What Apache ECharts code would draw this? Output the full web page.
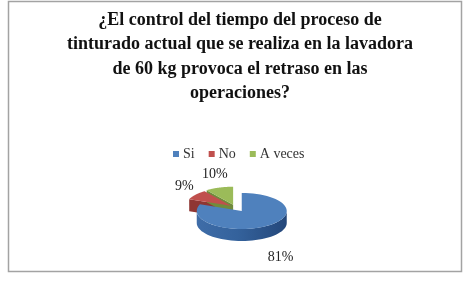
<!DOCTYPE html>
<html>
<head>
<meta charset="utf-8">
<script src="https://cdn.jsdelivr.net/npm/echarts@6/dist/echarts.min.js"></script>
<style>
  html, body { margin: 0; padding: 0; background: #fff; }
  #chart { width: 464px; height: 283px; }
</style>
</head>
<body>
<div id="chart"></div>
<script>
var titleText = '¿El control del tiempo del proceso de\ntinturado actual que se realiza en la lavadora\nde 60 kg provoca el retraso en las\noperaciones?';
var categories = ['Si', 'No', 'A veces'];
var values = [81, 9, 10];

var topColors = ['#4F81BD', '#C0504D', '#9BBB59'];
var sideColors = ['#34629c', '#8f3633', '#708b3c'];
var explode = [12, 5, 6];

// geometria del pastel 3D
var cx = 235, cy = 207, rx = 45, ry = 18, depth = 12;

var total = values.reduce(function (a, b) { return a + b; }, 0);

function pt(ox, oy, a, dy) {
    return [ox + rx * Math.sin(a), oy - ry * Math.cos(a) + dy];
}

function renderSlice(params, api) {
    var i = params.dataIndex;
    var start = 0;
    for (var k = 0; k < i; k++) start += values[k];
    var v = api.value(0);
    var a0 = start / total * Math.PI * 2;
    var a1 = (start + v) / total * Math.PI * 2;
    var mid = (a0 + a1) / 2;
    var ox = cx + explode[i] * Math.sin(mid);
    var oy = cy - explode[i] * Math.cos(mid) * ry / rx;
    var children = [];

    // caras radiales visibles
    if (Math.sin(a0) < -0.01) {
        var e0 = pt(ox, oy, a0, 0), e1 = pt(ox, oy, a0, depth);
        children.push({
            type: 'polygon', z2: 1,
            shape: { points: [[ox, oy], e0, e1, [ox, oy + depth]] },
            style: { fill: sideColors[i] }
        });
    }
    if (Math.sin(a1) > 0.01) {
        var f0 = pt(ox, oy, a1, 0), f1 = pt(ox, oy, a1, depth);
        children.push({
            type: 'polygon', z2: 1,
            shape: { points: [[ox, oy], f0, f1, [ox, oy + depth]] },
            style: { fill: sideColors[i] }
        });
    }

    // pared exterior (solo la parte frontal)
    var w0 = Math.max(a0, Math.PI / 2), w1 = Math.min(a1, Math.PI * 1.5);
    if (w1 > w0) {
        var band = [], n = 40, s;
        for (s = 0; s <= n; s++) band.push(pt(ox, oy, w0 + (w1 - w0) * s / n, 0));
        for (s = n; s >= 0; s--) band.push(pt(ox, oy, w0 + (w1 - w0) * s / n, depth));
        children.push({
            type: 'polygon', z2: 1,
            shape: { points: band },
            style: {
                fill: new echarts.graphic.LinearGradient(0, 0, 1, 0, [
                    { offset: 0, color: '#3f6da8' },
                    { offset: 0.45, color: sideColors[i] },
                    { offset: 1, color: '#24477a' }
                ])
            }
        });
    }

    // cara superior
    var top = [[ox, oy]];
    var m = 60;
    for (var j = 0; j <= m; j++) top.push(pt(ox, oy, a0 + (a1 - a0) * j / m, 0));
    children.push({
        type: 'polygon', z2: 2,
        shape: { points: top },
        style: { fill: topColors[i] }
    });

    // etiqueta de porcentaje
    var front = Math.cos(mid) < 0;
    var edge = pt(ox, oy, mid, front ? depth : 0);
    var lr = front ? 24 : 14;
    children.push({
        type: 'text', z2: 3,
        x: edge[0] + lr * Math.sin(mid),
        y: edge[1] - lr * Math.cos(mid),
        style: {
            text: Math.round(v / total * 100) + '%',
            fill: '#222',
            font: '14px "Liberation Serif"',
            align: 'center',
            verticalAlign: 'middle'
        }
    });

    return { type: 'group', children: children };
}

var option = {
    animation: false,
    color: topColors,
    title: {
        text: titleText,
        left: 235,
        textAlign: 'center',
        top: 3,
        textStyle: {
            fontFamily: 'Liberation Serif',
            fontWeight: 'bold',
            fontSize: 18,
            lineHeight: 24.5,
            color: '#111'
        }
    },
    legend: {
        data: categories,
        left: 168,
        top: 142,
        icon: 'rect',
        itemWidth: 6,
        itemHeight: 6,
        itemGap: 14,
        textStyle: {
            fontFamily: 'Liberation Serif',
            fontSize: 14,
            color: '#333',
            padding: [0, 0, 0, -1]
        }
    },
    graphic: [{
        type: 'rect',
        shape: { x: 8.5, y: 1.5, width: 453, height: 270 },
        style: { fill: 'none', stroke: '#a3a3a3', lineWidth: 1.5 }
    }],
    series: [
        {
            // solo para la leyenda
            type: 'pie',
            radius: [0, 0],
            silent: true,
            label: { show: false },
            data: categories.map(function (c, i) { return { name: c, value: values[i] }; })
        },
        {
            type: 'custom',
            coordinateSystem: 'none',
            renderItem: renderSlice,
            data: values
        }
    ]
};

var chart = echarts.init(document.getElementById('chart'));
chart.setOption(option);
</script>
</body>
</html>
